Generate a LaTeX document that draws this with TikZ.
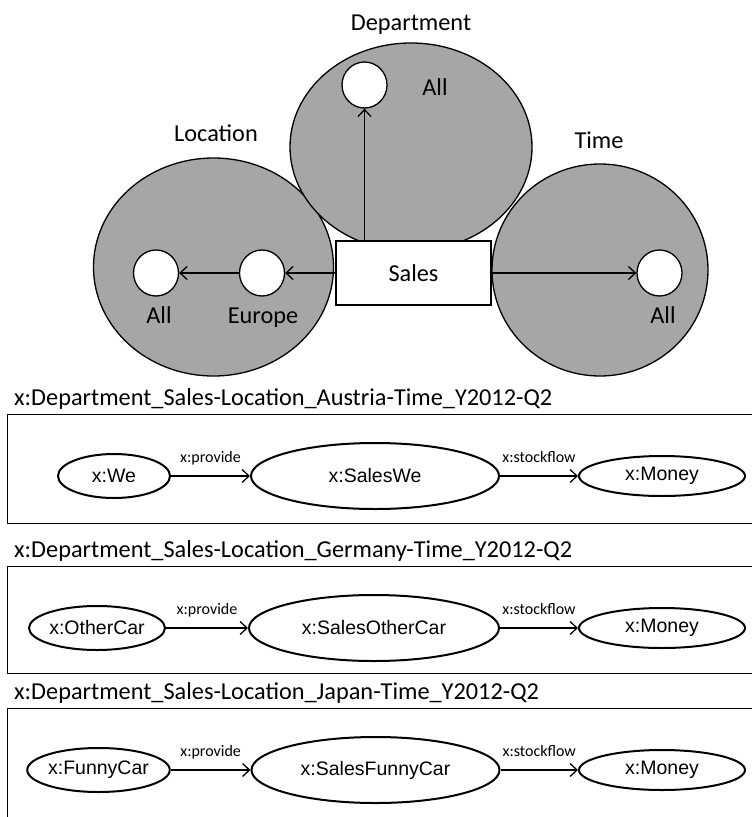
\documentclass[tikz,border=0pt]{standalone}
\usepackage{fontspec}
\setmainfont{Carlito}
\newfontfamily\resfont{Liberation Sans}
\usetikzlibrary{shapes.geometric,arrows.meta}
\definecolor{dimfill}{RGB}{166,166,166}
\begin{document}
\begin{tikzpicture}[x=1pt,y=-1pt,
  dim/.style={ellipse, draw, fill=dimfill, line width=1.3pt, inner sep=0},
  member/.style={ellipse, draw, fill=white, line width=1.3pt, inner sep=0,
    minimum width=45pt, minimum height=46pt},
  lbl/.style={font=\fontsize{24.3}{28}\selectfont, inner sep=0, anchor=base},
  title/.style={font=\fontsize{24.3}{28}\selectfont, inner sep=0, anchor=base west},
  res/.style={ellipse, draw, line width=2pt, inner sep=0,
    font=\resfont\fontsize{19.5}{22}\selectfont},
  link/.style={-{Straight Barb[length=7pt,width=13pt]}, line width=1.3pt},
  prop/.style={font=\fontsize{16}{18}\selectfont, inner sep=0, text depth=3pt, above=10pt},
  frame/.style={draw, line width=1.3pt, inner sep=0, anchor=north west,
    minimum width=760pt},
]
\useasboundingbox (0,0) rectangle (752,817);

% dimension circles
\node[dim, minimum width=240pt, minimum height=218pt] (loc) at (213.5,267) {};
\node[dim, minimum width=216pt, minimum height=212pt] (tim) at (600,270) {};
\node[dim, minimum width=242pt, minimum height=208pt] (dep) at (411,147) {};

% fact box
\node[draw, fill=white, line width=1.3pt, inner sep=0,
  minimum width=155pt, minimum height=64pt, font=\fontsize{24.3}{28}\selectfont]
  (sales) at (413.5,273) {Sales};

% level members
\node[member] (depAll) at (364.5,85) {};
\node[member] (locAll) at (156,273) {};
\node[member] (europe) at (262,273) {};
\node[member] (timAll) at (659.5,273) {};

\draw[link] (sales.north -| depAll) -- (depAll);
\draw[link] (sales) -- (europe);
\draw[link] (europe) -- (locAll);
\draw[link] (sales) -- (timAll);

% dimension and level names
\node[lbl] (depName) at (411,30) {Department};
\node[lbl] (locName) at (216,141) {Location};
\node[lbl] (timName) at (599,148) {Time};
\node[lbl] (depAllName) at (435,95) {All};
\node[lbl] (locAllName) at (159,323) {All};
\node[lbl] (euName) at (263,323) {Europe};
\node[lbl] (timAllName) at (663,323) {All};

% named graphs
\node[title] (t1) at (14,405) {x:Department\_Sales-Location\_Austria-Time\_Y2012-Q2};
\node[frame, minimum height=109pt] (f1) at (7,414) {};
\node[res, minimum width=112pt, minimum height=44pt] (we) at (114,476) {x:We};
\node[res, minimum width=248pt, minimum height=66pt] (salesWe) at (375,476) {x:SalesWe};
\node[res, minimum width=166pt, minimum height=40pt] (money1) at (662,476) {x:Money};
\draw[link] (we) -- node[prop] {x:provide} (salesWe);
\draw[link] (salesWe) -- node[prop] {x:stockflow} (money1);

\node[title] (t2) at (14,557) {x:Department\_Sales-Location\_Germany-Time\_Y2012-Q2};
\node[frame, minimum height=107pt] (f2) at (7,566) {};
\node[res, minimum width=136pt, minimum height=44pt] (otherCar) at (97,628) {x:OtherCar};
\node[res, minimum width=250pt, minimum height=66pt] (salesOther) at (374,628) {x:SalesOtherCar};
\node[res, minimum width=166pt, minimum height=40pt] (money2) at (662,628) {x:Money};
\draw[link] (otherCar) -- node[prop] {x:provide} (salesOther);
\draw[link] (salesOther) -- node[prop] {x:stockflow} (money2);

\node[title] (t3) at (14,699) {x:Department\_Sales-Location\_Japan-Time\_Y2012-Q2};
\node[frame, minimum height=112pt] (f3) at (7,708) {};
\node[res, minimum width=126pt, minimum height=44pt] (funnyCar) at (98.5,770) {x:FunnyCar};
\node[res, minimum width=248pt, minimum height=66pt] (salesFunny) at (375.5,770) {x:SalesFunnyCar};
\node[res, minimum width=166pt, minimum height=40pt] (money3) at (662,770) {x:Money};
\draw[link] (funnyCar) -- node[prop] {x:provide} (salesFunny);
\draw[link] (salesFunny) -- node[prop] {x:stockflow} (money3);
\end{tikzpicture}
\end{document}
